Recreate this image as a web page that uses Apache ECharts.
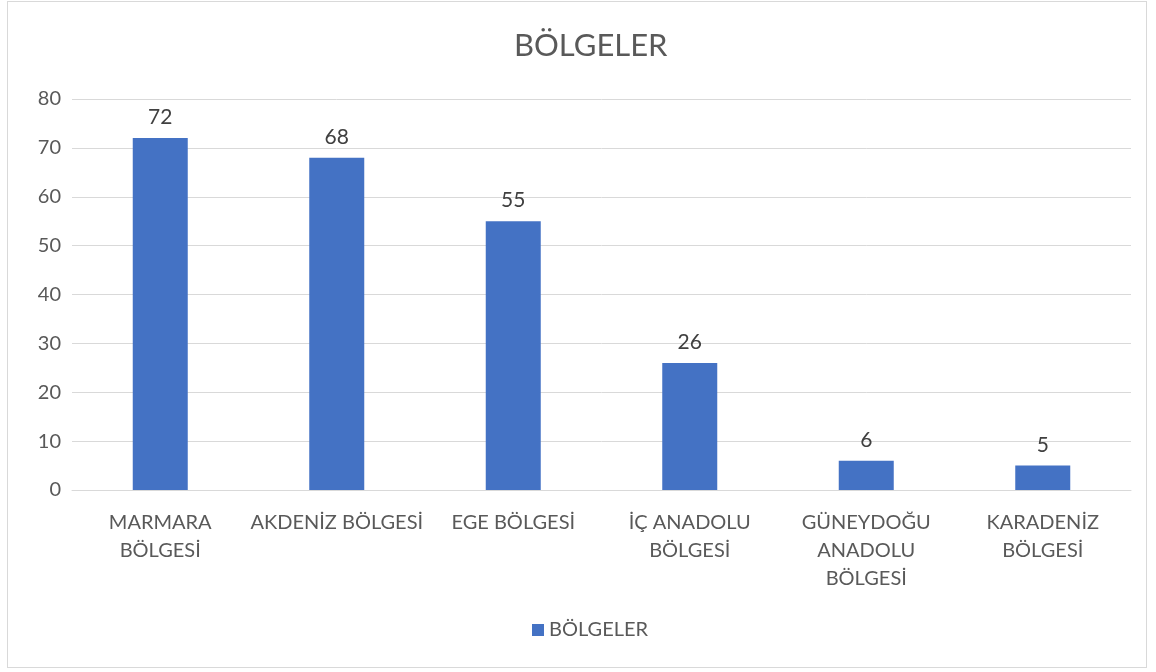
<!DOCTYPE html>
<html><head><meta charset="utf-8">
<script src="https://cdn.jsdelivr.net/npm/echarts@6/dist/echarts.min.js"></script>
<style>
html,body{margin:0;padding:0;background:#fff;}
#frame{position:absolute;left:7px;top:1px;width:1140px;height:667px;border:1px solid #d9d9d9;box-sizing:border-box;}
#c{position:absolute;left:0;top:0;width:1156px;height:672px;}
</style></head>
<body>
<div id="frame"></div>
<div id="c"></div>
<script>
const categories = ["MARMARA\nBÖLGESİ", "AKDENİZ BÖLGESİ", "EGE BÖLGESİ", "İÇ ANADOLU\nBÖLGESİ", "GÜNEYDOĞU\nANADOLU\nBÖLGESİ", "KARADENİZ\nBÖLGESİ"];
const values = [72, 68, 55, 26, 6, 5];
const seriesName = "BÖLGELER";
const titleText = "BÖLGELER";

const font = "Lato, 'Open Sans', sans-serif";
const chart = echarts.init(document.getElementById('c'), null, {renderer: 'canvas'});
chart.setOption({
  animation: false,
  backgroundColor: 'transparent',
  title: {text: titleText, left: 509, top: 25, textStyle: {fontFamily: font, fontSize: 31, fontWeight: 'normal', color: '#595959'}},
  legend: {bottom: 27, left: 527, itemWidth: 12, itemHeight: 12, icon: 'rect', itemGap: 6,
    textStyle: {fontFamily: font, fontSize: 20, color: '#595959'}, data: [seriesName]},
  grid: {left: 72, right: 25, top: 99, bottom: 182},
  xAxis: {type: 'category', data: categories,
    axisLine: {lineStyle: {color: '#d9d9d9', width: 1}}, axisTick: {show: false},
    axisLabel: {interval: 0, fontFamily: font, fontSize: 20, color: '#595959', lineHeight: 28, margin: 19}},
  yAxis: {type: 'value', min: 0, max: 80, interval: 10,
    axisLine: {show: false}, axisTick: {show: false},
    splitLine: {lineStyle: {color: '#d9d9d9', width: 1}},
    axisLabel: {fontFamily: font, fontSize: 20, color: '#595959', margin: 11}},
  series: [{name: seriesName, type: 'bar', data: values, barWidth: 55,
    itemStyle: {color: '#4472c4'},
    label: {show: true, position: 'top', distance: 10, fontFamily: font, fontSize: 21, color: '#404040'}}]
});
</script>
</body></html>
